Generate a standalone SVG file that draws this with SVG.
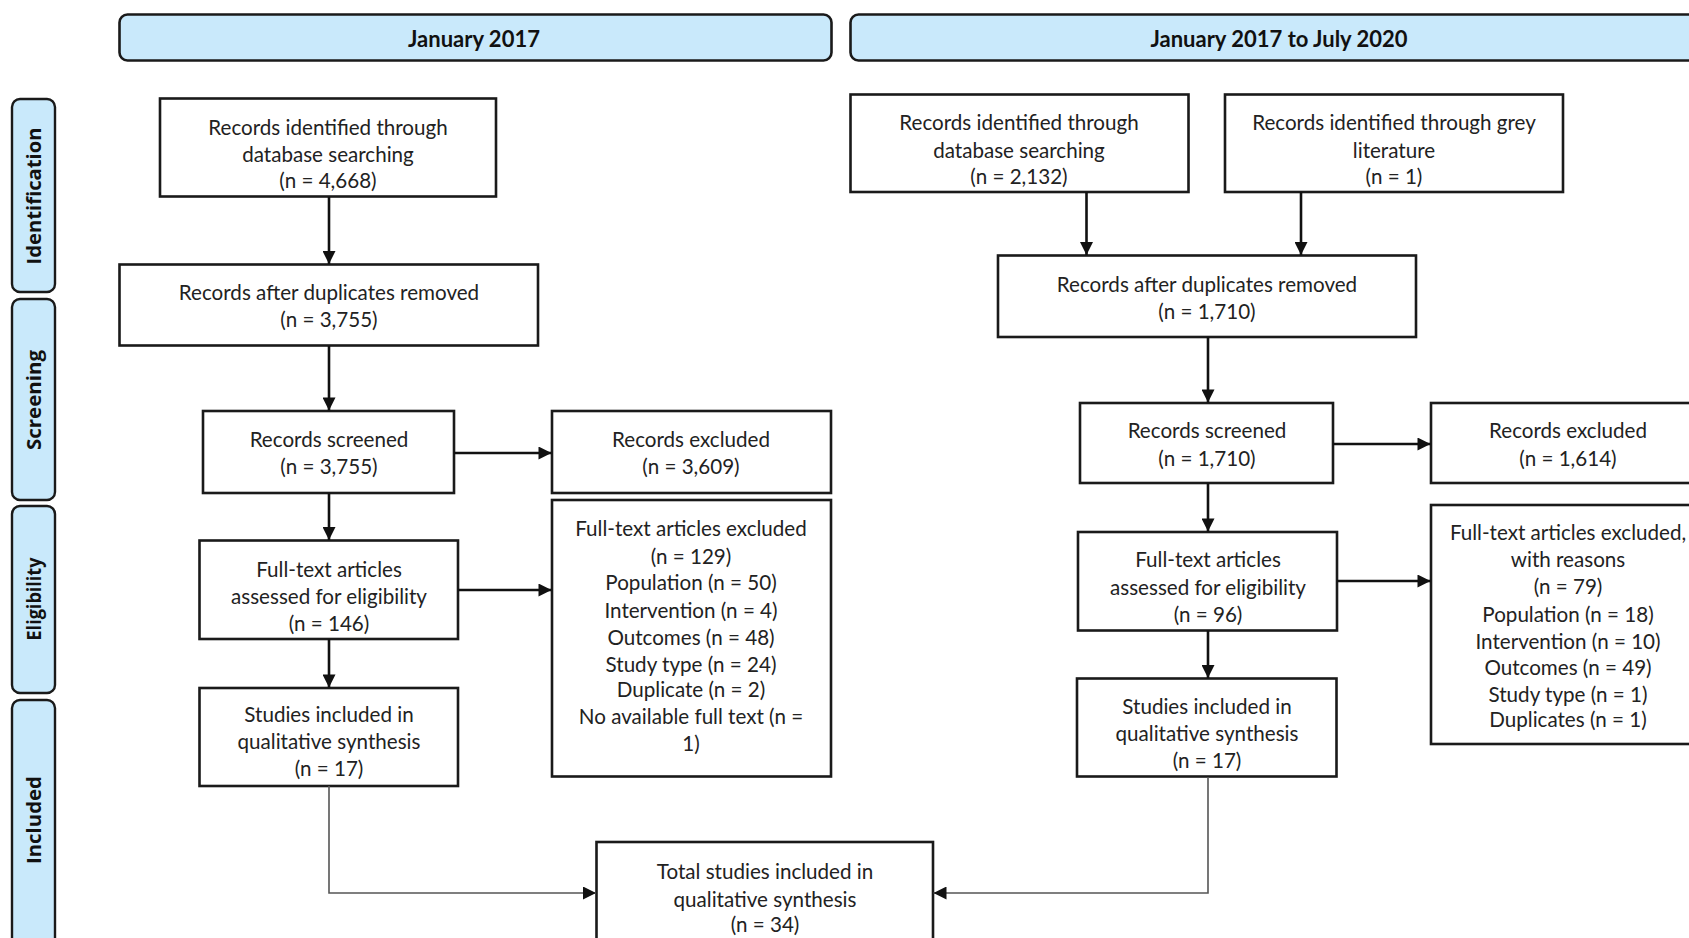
<svg xmlns="http://www.w3.org/2000/svg" width="1689" height="938" viewBox="0 0 1689 938">
<defs>
<marker id="ah" viewBox="0 0 10 10" refX="10" refY="5" markerWidth="15" markerHeight="13" markerUnits="userSpaceOnUse" orient="auto">
<path d="M0,0 L10,5 L0,10 z" fill="#111"/>
</marker>
<style>
.box{fill:#fff;stroke:#1a1a1a;stroke-width:2.6}
.hdr{fill:#c9e9fb;stroke:#1a1a1a;stroke-width:2.6}
.tab{fill:#c9e9fb;stroke:#1a1a1a;stroke-width:2.4}
.t{font-family:Lato,"Liberation Sans",sans-serif;font-size:20.6px;fill:#222;text-anchor:middle}
.h{font-family:Lato,"Liberation Sans",sans-serif;font-size:22px;font-weight:bold;fill:#111;text-anchor:middle}
.s{font-family:"Open Sans","DejaVu Sans",sans-serif;font-size:19px;font-weight:bold;fill:#111;text-anchor:middle}
.c{fill:none;stroke:#111;stroke-width:2.6}
.c2{fill:none;stroke:#555;stroke-width:1.6}
</style>
</defs>
<rect width="1689" height="938" fill="#fff"/>

<g id="header-2017">
<rect class="hdr" x="119.5" y="14.5" width="712" height="46" rx="8"/>
<text class="h" x="474" y="47">January 2017</text>
</g>
<g id="header-2017-2020">
<rect class="hdr" x="850.5" y="14.5" width="860" height="46" rx="8"/>
<text class="h" x="1279" y="47">January 2017 to July 2020</text>
</g>

<g id="stage-identification">
<rect class="tab" x="12" y="99" width="43" height="193" rx="8"/>
<text class="s" transform="translate(41,196) rotate(-90)" textLength="137" lengthAdjust="spacingAndGlyphs">Identification</text>
</g>
<g id="stage-screening">
<rect class="tab" x="12" y="299" width="43" height="201" rx="8"/>
<text class="s" transform="translate(41,400) rotate(-90)" textLength="100" lengthAdjust="spacingAndGlyphs">Screening</text>
</g>
<g id="stage-eligibility">
<rect class="tab" x="12" y="506" width="43" height="187" rx="8"/>
<text class="s" transform="translate(41,599) rotate(-90)" textLength="83" lengthAdjust="spacingAndGlyphs">Eligibility</text>
</g>
<g id="stage-included">
<rect class="tab" x="12" y="700" width="43" height="260" rx="8"/>
<text class="s" transform="translate(41,820) rotate(-90)" textLength="88" lengthAdjust="spacingAndGlyphs">Included</text>
</g>

<g id="a-identified">
<rect class="box" x="160" y="98.5" width="336" height="98"/>
<text class="t" x="328" y="135">Records identified through</text>
<text class="t" x="328" y="162">database searching</text>
<text class="t" x="328" y="188">(n = 4,668)</text>
</g>
<g id="a-duplicates">
<rect class="box" x="119.5" y="264.5" width="418.5" height="81"/>
<text class="t" x="329" y="300">Records after duplicates removed</text>
<text class="t" x="329" y="327">(n = 3,755)</text>
</g>
<g id="a-screened">
<rect class="box" x="203" y="411" width="251" height="82"/>
<text class="t" x="329" y="447">Records screened</text>
<text class="t" x="329" y="474">(n = 3,755)</text>
</g>
<g id="a-excluded">
<rect class="box" x="552" y="411" width="279" height="82"/>
<text class="t" x="691" y="447">Records excluded</text>
<text class="t" x="691" y="474">(n = 3,609)</text>
</g>
<g id="a-fulltext">
<rect class="box" x="199.5" y="540.5" width="258.5" height="98.5"/>
<text class="t" x="329" y="577">Full-text articles</text>
<text class="t" x="329" y="604">assessed for eligibility</text>
<text class="t" x="329" y="631">(n = 146)</text>
</g>
<g id="a-fulltext-excluded">
<rect class="box" x="552" y="500" width="279" height="276.5"/>
<text class="t" x="691" y="536">Full-text articles excluded</text>
<text class="t" x="691" y="564">(n = 129)</text>
<text class="t" x="691" y="590">Population (n = 50)</text>
<text class="t" x="691" y="618">Intervention (n = 4)</text>
<text class="t" x="691" y="645">Outcomes (n = 48)</text>
<text class="t" x="691" y="672">Study type (n = 24)</text>
<text class="t" x="691" y="697">Duplicate  (n = 2)</text>
<text class="t" x="691" y="724">No available full text (n =</text>
<text class="t" x="691" y="751">1)</text>
</g>
<g id="a-included">
<rect class="box" x="199.5" y="688" width="258.5" height="98"/>
<text class="t" x="329" y="722">Studies included in</text>
<text class="t" x="329" y="749">qualitative synthesis</text>
<text class="t" x="329" y="776">(n = 17)</text>
</g>

<g id="b-identified">
<rect class="box" x="850.5" y="94.5" width="338" height="97.5"/>
<text class="t" x="1019" y="130">Records identified through</text>
<text class="t" x="1019" y="158">database searching</text>
<text class="t" x="1019" y="184">(n = 2,132)</text>
</g>
<g id="b-grey">
<rect class="box" x="1225" y="94.5" width="338" height="97.5"/>
<text class="t" x="1394" y="130">Records identified through grey</text>
<text class="t" x="1394" y="158">literature</text>
<text class="t" x="1394" y="184">(n = 1)</text>
</g>
<g id="b-duplicates">
<rect class="box" x="998" y="255.5" width="418" height="81.5"/>
<text class="t" x="1207" y="292">Records after duplicates removed</text>
<text class="t" x="1207" y="319">(n = 1,710)</text>
</g>
<g id="b-screened">
<rect class="box" x="1080" y="403" width="253" height="80"/>
<text class="t" x="1207" y="438">Records screened</text>
<text class="t" x="1207" y="466">(n = 1,710)</text>
</g>
<g id="b-excluded">
<rect class="box" x="1431" y="403" width="275" height="80"/>
<text class="t" x="1568" y="438">Records excluded</text>
<text class="t" x="1568" y="466">(n = 1,614)</text>
</g>
<g id="b-fulltext">
<rect class="box" x="1078" y="532" width="259" height="98.5"/>
<text class="t" x="1208" y="567">Full-text articles</text>
<text class="t" x="1208" y="595">assessed for eligibility</text>
<text class="t" x="1208" y="622">(n = 96)</text>
</g>
<g id="b-fulltext-excluded">
<rect class="box" x="1431" y="505" width="275" height="239"/>
<text class="t" x="1568" y="540">Full-text articles excluded,</text>
<text class="t" x="1568" y="567">with reasons</text>
<text class="t" x="1568" y="594">(n = 79)</text>
<text class="t" x="1568" y="622">Population (n = 18)</text>
<text class="t" x="1568" y="649">Intervention (n = 10)</text>
<text class="t" x="1568" y="675">Outcomes (n = 49)</text>
<text class="t" x="1568" y="702">Study type (n = 1)</text>
<text class="t" x="1568" y="727">Duplicates (n = 1)</text>
</g>
<g id="b-included">
<rect class="box" x="1077" y="678.5" width="259.5" height="98"/>
<text class="t" x="1207" y="714">Studies included in</text>
<text class="t" x="1207" y="741">qualitative synthesis</text>
<text class="t" x="1207" y="768">(n = 17)</text>
</g>

<g id="total">
<rect class="box" x="596.5" y="842" width="336.5" height="120"/>
<text class="t" x="765" y="879">Total studies included in</text>
<text class="t" x="765" y="907">qualitative synthesis</text>
<text class="t" x="765" y="932">(n = 34)</text>
</g>

<g id="connectors">
<line class="c" x1="329" y1="197" x2="329" y2="264" marker-end="url(#ah)"/>
<line class="c" x1="329" y1="346" x2="329" y2="410.5" marker-end="url(#ah)"/>
<line class="c" x1="454" y1="453" x2="551.5" y2="453" marker-end="url(#ah)"/>
<line class="c" x1="329" y1="493" x2="329" y2="540" marker-end="url(#ah)"/>
<line class="c" x1="458" y1="590" x2="551.5" y2="590" marker-end="url(#ah)"/>
<line class="c" x1="329" y1="639" x2="329" y2="687.5" marker-end="url(#ah)"/>
<polyline class="c2" points="329,786 329,893 596,893" marker-end="url(#ah)"/>

<line class="c" x1="1086.5" y1="192" x2="1086.5" y2="255" marker-end="url(#ah)"/>
<line class="c" x1="1301" y1="192" x2="1301" y2="255" marker-end="url(#ah)"/>
<line class="c" x1="1208" y1="337" x2="1208" y2="402.5" marker-end="url(#ah)"/>
<line class="c" x1="1333" y1="444" x2="1430.5" y2="444" marker-end="url(#ah)"/>
<line class="c" x1="1208" y1="483" x2="1208" y2="531.5" marker-end="url(#ah)"/>
<line class="c" x1="1337" y1="581" x2="1430.5" y2="581" marker-end="url(#ah)"/>
<line class="c" x1="1208" y1="630.5" x2="1208" y2="678" marker-end="url(#ah)"/>
<polyline class="c2" points="1208,777 1208,893 933.5,893" marker-end="url(#ah)"/>
</g>
</svg>
